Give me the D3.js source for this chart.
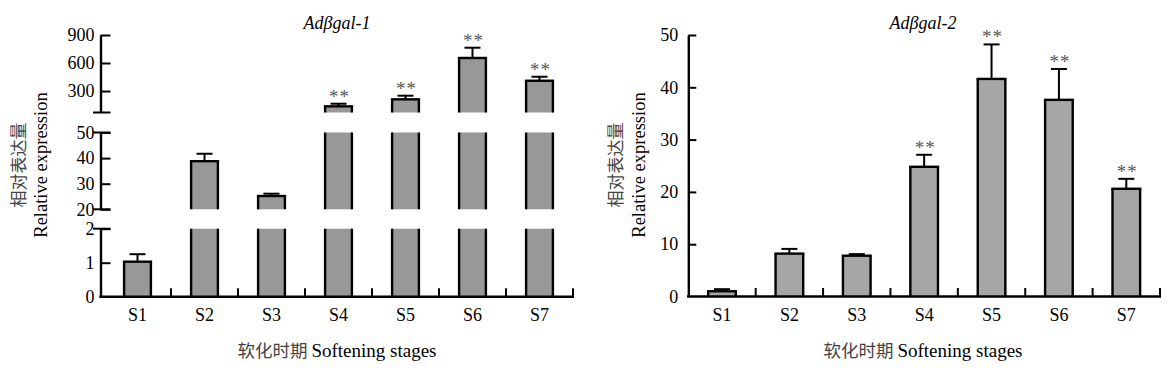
<!DOCTYPE html>
<html>
<head>
<meta charset="utf-8">
<script src="https://cdn.jsdelivr.net/npm/d3@7"></script>
<style>
  html, body { margin: 0; padding: 0; background: #fff; }
  svg { display: block; }
</style>
</head>
<body>
<svg id="chart" width="1168" height="375"></svg>
<script>
// ---------- data ----------
const stages = ["S1", "S2", "S3", "S4", "S5", "S6", "S7"];

const gal1Title = "Adβgal-1";
const gal1Mean = [1.03, 38.8, 25.2, 136, 211, 654, 410];
const gal1Err  = [0.22, 2.9, 0.9, 28, 39, 110, 43];
const gal1Sig  = ["", "", "", "**", "**", "**", "**"];
const gal1SegTicks = [[0, 1, 2], [20, 30, 40, 50], [300, 600, 900]];
const gal1SegDomains = [[0, 2], [20, 50], [70, 900]];

const gal2Title = "Adβgal-2";
const gal2Mean = [1.0, 8.2, 7.8, 24.8, 41.6, 37.6, 20.6];
const gal2Err  = [0.4, 0.9, 0.3, 2.3, 6.6, 5.9, 1.9];
const gal2Sig  = ["", "", "", "**", "**", "**", "**"];
const gal2Ticks = [0, 10, 20, 30, 40, 50];

const yLabelCn = "相对表达量";
const yLabelEn = "Relative expression";
const xLabelCn = "软化时期";
const xLabelEn = "Softening stages";

// ---------- drawing ----------
const svg = d3.select("#chart");
const SERIF = "'Liberation Serif', 'Times New Roman', serif";
const CJK = "'Noto Sans CJK SC', sans-serif";
const TICK_FS = 18, TITLE_FS = 19;

function drawPanel(opt) {
  const g = svg.append("g");
  const x = d3.scaleBand().domain(stages).range(opt.xRange).padding(0);
  const bw = x.bandwidth() * opt.barFrac;
  const axisY = opt.segments[0].range[0];

  const segs = opt.segments.map(s => ({
    domain: s.domain, ticks: s.ticks,
    y: d3.scaleLinear().domain(s.domain).range(s.range)
  }));

  // bars (possibly broken)
  stages.forEach((st, i) => {
    const v = opt.mean[i], e = opt.err[i];
    const cx = x(st) + x.bandwidth() / 2;
    const x0 = cx - bw / 2, x1 = cx + bw / 2;
    segs.forEach(s => {
      const [d0, d1] = s.domain;
      if (v <= d0) return;
      const top = Math.min(v, d1);
      const yb = s.y(d0), yt = s.y(top);
      g.append("rect").attr("x", x0).attr("y", yt).attr("width", bw).attr("height", yb - yt)
        .attr("fill", opt.fill);
      [x0, x1].forEach(xx => g.append("line").attr("x1", xx).attr("x2", xx).attr("y1", yb).attr("y2", yt)
        .attr("stroke", "#000").attr("stroke-width", 2.4));
      if (v <= d1) {
        g.append("line").attr("x1", x0 - 1.2).attr("x2", x1 + 1.2).attr("y1", yt).attr("y2", yt)
          .attr("stroke", "#000").attr("stroke-width", 2.4);
        const ye = s.y(Math.min(v + e, d1));
        g.append("line").attr("x1", cx).attr("x2", cx).attr("y1", yt).attr("y2", ye)
          .attr("stroke", "#000").attr("stroke-width", 2);
        g.append("line").attr("x1", cx - 8).attr("x2", cx + 8).attr("y1", ye).attr("y2", ye)
          .attr("stroke", "#000").attr("stroke-width", 2);
        if (opt.sig[i]) {
          g.append("text").attr("x", cx + 1).attr("y", ye - 1)
            .attr("text-anchor", "middle").style("font-family", SERIF).style("font-size", "19px")
            .style("letter-spacing", "1px").attr("fill", "#555")
            .text(opt.sig[i]);
        }
      }
    });
  });

  // y axes per segment
  segs.forEach(s => {
    const ax = d3.axisLeft(s.y).tickValues(s.ticks).tickFormat(d3.format("d"))
      .tickSizeInner(-opt.tickLen).tickSizeOuter(0).tickPadding(opt.labelPad);
    const ag = g.append("g").attr("transform", `translate(${opt.yAxisX},0)`).call(ax);
    ag.select(".domain").attr("stroke-width", 2.4);
    ag.selectAll(".tick line").attr("stroke-width", 2);
    ag.selectAll(".tick text").style("font-size", TICK_FS + "px").style("font-family", SERIF).attr("fill", "#000");
    ag.selectAll(".tick").filter(d => d === 0).select("line").remove();
  });
  // break marks
  if (segs.length > 1) {
    segs.forEach((s, k) => {
      const ends = [];
      if (k > 0) ends.push(s.domain[0]);
      if (k < segs.length - 1) ends.push(s.domain[1]);
      ends.forEach(d => {
        g.append("line").attr("x1", opt.yAxisX - 7.5).attr("x2", opt.yAxisX + 10)
          .attr("y1", s.y(d)).attr("y2", s.y(d)).attr("stroke", "#000").attr("stroke-width", 2);
      });
    });
  }

  // x axis
  const xa = d3.axisBottom(x).tickSize(0).tickPadding(12);
  const xg = g.append("g").attr("transform", `translate(0,${axisY})`).call(xa);
  xg.select(".domain").remove();
  xg.selectAll(".tick text").style("font-size", TICK_FS + "px").style("font-family", SERIF).attr("fill", "#000");
  g.append("line").attr("x1", opt.yAxisX - 1.2).attr("x2", opt.xRange[1] + 1)
    .attr("y1", axisY).attr("y2", axisY).attr("stroke", "#000").attr("stroke-width", 2.4);
  stages.forEach(st => {
    const bx = x(st) + x.step();
    g.append("line").attr("x1", bx).attr("x2", bx).attr("y1", axisY).attr("y2", axisY - 8.5)
      .attr("stroke", "#000").attr("stroke-width", 2);
  });

  // title
  g.append("text").attr("x", opt.titleX).attr("y", 29).attr("text-anchor", "middle")
    .style("font-family", SERIF).style("font-size", "18px").style("font-style", "italic")
    .text(opt.title);

  // y label
  const yl = g.append("g").attr("transform", `translate(0,${opt.yLabelCY})`);
  yl.append("text").attr("transform", `translate(${opt.yCnX},0) rotate(-90)`)
    .attr("text-anchor", "middle").style("font-size", "17px")
    .style("font-family", CJK).attr("fill", "#444").text(yLabelCn);
  yl.append("text").attr("transform", `translate(${opt.yEnX},0) rotate(-90)`)
    .attr("text-anchor", "middle").style("font-family", SERIF).style("font-size", "18.5px")
    .text(yLabelEn);

  // x label
  const xt = g.append("text").attr("x", opt.titleX).attr("y", 357).attr("text-anchor", "middle")
    .style("font-family", SERIF).style("font-size", TITLE_FS + "px");
  xt.append("tspan").style("font-family", CJK).style("font-size", "17.5px").attr("fill", "#444").text(xLabelCn + " ");
  xt.append("tspan").text(xLabelEn);
}

drawPanel({
  title: gal1Title, mean: gal1Mean, err: gal1Err, sig: gal1Sig,
  xRange: [104, 573], barFrac: 0.4, fill: "#989898",
  yAxisX: 100.5, tickLen: 10, labelPad: 6,
  segments: [
    { domain: gal1SegDomains[0], ticks: gal1SegTicks[0], range: [296.7, 228.7] },
    { domain: gal1SegDomains[1], ticks: gal1SegTicks[1], range: [209.3, 132.5] },
    { domain: gal1SegDomains[2], ticks: gal1SegTicks[2], range: [112.5, 35] }
  ],
  titleX: 337, yLabelCY: 165, yCnX: 25, yEnX: 47
});

drawPanel({
  title: gal2Title, mean: gal2Mean, err: gal2Err, sig: gal2Sig,
  xRange: [688.3, 1160], barFrac: 0.41, fill: "#a6a6a6",
  yAxisX: 688.3, tickLen: 8, labelPad: 10,
  segments: [
    { domain: [0, 50], ticks: gal2Ticks, range: [296.5, 35] }
  ],
  titleX: 923, yLabelCY: 165, yCnX: 622, yEnX: 645
});
</script>
</body>
</html>
